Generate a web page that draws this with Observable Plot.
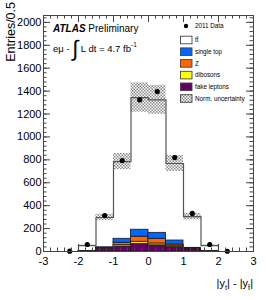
<!DOCTYPE html>
<html>
<head>
<meta charset="utf-8">
<script src="https://cdn.jsdelivr.net/npm/d3@7"></script>
<script src="https://cdn.jsdelivr.net/npm/@observablehq/plot@0.6"></script>
<style>
  html, body { margin: 0; padding: 0; background: #fff; }
  #chart { width: 266px; height: 300px; }
</style>
</head>
<body>
<div id="chart"></div>
<script>
// Bins of |y_t| - |y_tbar|, width 0.5
const binLo = [-2.5, -2.0, -1.5, -1.0, -0.5, 0.0, 0.5, 1.0, 1.5, 2.0];
const binHi = [-2.0, -1.5, -1.0, -0.5, 0.0, 0.5, 1.0, 1.5, 2.0, 2.5];
const dataCounts = [3, 61, 314, 794, 1324, 1396, 820, 332, 61, 2];
const ttbar      = [0, 49, 260, 674, 1154, 1161, 672, 273, 49, 0];
const singleTop  = [0, 1, 7, 35, 61, 52, 35, 6, 1, 0];
const zjets      = [0, 1, 5, 21, 44, 41, 15, 5, 1, 0];
const dibosons   = [0, 0, 3, 12, 18, 16, 9, 3, 0, 0];
const fakeLep    = [0, 1, 22, 43, 67, 54, 37, 18, 1, 0];
const normUnc    = [0, 5, 28, 70, 128, 126, 70, 29, 5, 0];

const xMajor = [-3, -2, -1, 0, 1, 2, 3];
const xMinor = d3.range(-3, 3.001, 0.2).map(v => +v.toFixed(2));
const yMajor = [0, 200, 400, 600, 800, 1000, 1200, 1400, 1600, 1800, 2000];
const yMinor = d3.range(0, 2060, 40);

const procNames  = ["fake leptons", "dibosons", "Z", "single top"];
const procColors = ["#660066", "#ffff00", "#ff6600", "#0066ff"];
const procSeries = [fakeLep, dibosons, zjets, singleTop];

// Build tables
const stackRows = [];
procNames.forEach((name, k) => {
  binLo.forEach((lo, i) => stackRows.push({proc: name, x1: lo, x2: binHi[i], v: procSeries[k][i]}));
});
const bgSum = binLo.map((_, i) => fakeLep[i] + dibosons[i] + zjets[i] + singleTop[i]);
const total = binLo.map((_, i) => bgSum[i] + ttbar[i]);
const binRows = binLo.map((lo, i) => ({
  x1: lo, x2: binHi[i], c: (lo + binHi[i]) / 2,
  bg: bgSum[i], tot: total[i], unc: normUnc[i], data: dataCounts[i]
}));
const stepPts = binLo.map((lo, i) => ({x: lo, y: total[i]}));
stepPts.push({x: binHi[binHi.length - 1], y: total[total.length - 1]});

const W = 266, H = 300, mL = 43, mR = 13, mT = 15, mB = 49;
const pw = W - mL - mR, ph = H - mT - mB;
const axisColor = "#444";
const font = "'Liberation Sans', Arial, Helvetica, sans-serif";

const chart = Plot.plot({
  width: W, height: H,
  marginLeft: mL, marginRight: mR, marginTop: mT, marginBottom: mB,
  x: {domain: [-3, 3], axis: null},
  y: {domain: [0, 2060], axis: null},
  color: {domain: procNames, range: procColors},
  style: {fontFamily: font, background: "#fff"},
  marks: [
    Plot.rect(binRows, {x1: "x1", x2: "x2", y1: "bg", y2: "tot", fill: "#fff"}),
    Plot.rectY(stackRows, {x1: "x1", x2: "x2", y: "v", fill: "proc", stroke: "#1a1a1a", strokeWidth: 0.8}),
    Plot.rect(binRows.filter(d => d.unc > 0), {x1: "x1", x2: "x2", y1: d => d.tot - d.unc, y2: d => d.tot + d.unc, fill: "url(#hatch)"}),
    Plot.line(stepPts, {x: "x", y: "y", curve: "step-after", stroke: "#555", strokeWidth: 1.2}),
    Plot.dot(binRows, {x: "c", y: "data", r: 2.6, fill: "#000"}),
    Plot.frame({stroke: axisColor, strokeWidth: 1}),
    Plot.tickX(xMajor, {x: d => d, insetTop: ph - 7, stroke: axisColor}),
    Plot.tickX(xMinor, {x: d => d, insetTop: ph - 3.5, stroke: axisColor}),
    Plot.tickX(xMajor, {x: d => d, insetBottom: ph - 7, stroke: axisColor}),
    Plot.tickX(xMinor, {x: d => d, insetBottom: ph - 3.5, stroke: axisColor}),
    Plot.tickY(yMajor, {y: d => d, insetRight: pw - 7, stroke: axisColor}),
    Plot.tickY(yMinor, {y: d => d, insetRight: pw - 3.5, stroke: axisColor}),
    Plot.tickY(yMajor, {y: d => d, insetLeft: pw - 7, stroke: axisColor}),
    Plot.tickY(yMinor, {y: d => d, insetLeft: pw - 3.5, stroke: axisColor}),
    Plot.text(xMajor, {x: d => d, frameAnchor: "bottom", dy: 10, lineAnchor: "middle", text: d => String(d), fontSize: 11, fill: "#000"}),
    Plot.text(yMajor, {y: d => d, frameAnchor: "left", dx: -2, textAnchor: "end", lineAnchor: "middle", text: d => String(d), fontSize: 11, fill: "#000"})
  ]
});

const svg = d3.select(chart);
const defs = svg.insert("defs", ":first-child");
const pat = defs.append("pattern").attr("id", "hatch").attr("patternUnits", "userSpaceOnUse")
  .attr("width", 3).attr("height", 3);
pat.append("rect").attr("width", 3).attr("height", 3).attr("fill", "#fff").attr("fill-opacity", 0.35);
pat.append("path").attr("d", "M0,0h1.5v1.5h-1.5z M1.5,1.5h1.5v1.5h-1.5z").attr("fill", "#8a8a8a");

const ann = svg.append("g").attr("font-family", font).attr("fill", "#000").attr("text-anchor", "start");

ann.append("text").attr("transform", "translate(15,2) rotate(-90)")
  .attr("text-anchor", "end").attr("font-size", 12.5).text("Entries/0.5");

const xt = ann.append("text").attr("x", 253).attr("y", 287).attr("text-anchor", "end").attr("font-size", 11);
xt.append("tspan").text("|y");
xt.append("tspan").attr("font-size", 7.5).attr("dy", 3).text("t");
xt.append("tspan").attr("dy", -3).text("| - |y");
xt.append("tspan").attr("font-size", 7.5).attr("dy", 3).text("t\u0304");
xt.append("tspan").attr("dy", -3).text("|");

const at = ann.append("text").attr("x", 53).attr("y", 32).attr("font-size", 10);
at.append("tspan").attr("font-weight", "bold").attr("font-style", "italic").text("ATLAS");
at.append("tspan").text(" Preliminary");

const lum = ann.append("text").attr("x", 53).attr("y", 52).attr("font-size", 9.5);
lum.append("tspan").text("e\u03bc - ");
lum.append("tspan").attr("font-size", 22).attr("dy", 4).text("\u222b");
lum.append("tspan").attr("dy", -4).text(" L dt = 4.7 fb");
lum.append("tspan").attr("font-size", 6.5).attr("dy", -5).text("-1");

const legItems = [
  {label: "tt\u0304", fill: "#fff"},
  {label: "single top", fill: "#0066ff"},
  {label: "Z", fill: "#ff6600"},
  {label: "dibosons", fill: "#ffff00"},
  {label: "fake leptons", fill: "#660066"},
  {label: "Norm. uncertainty", fill: "url(#hatch)"}
];
const lg = ann.append("g").attr("font-size", 6.3);
lg.append("circle").attr("cx", 186).attr("cy", 26).attr("r", 2.2).attr("fill", "#000");
lg.append("text").attr("x", 195).attr("y", 28).text("2011 Data");
legItems.forEach((it, i) => {
  const cy = 40 + i * 11.7;
  lg.append("rect").attr("x", 180.5).attr("y", cy - 3.8).attr("width", 11.5).attr("height", 7.6)
    .attr("fill", it.fill).attr("stroke", "#444").attr("stroke-width", 0.9);
  lg.append("text").attr("x", 195).attr("y", cy + 2.2).text(it.label);
});

document.getElementById("chart").appendChild(chart);
</script>
</body>
</html>
